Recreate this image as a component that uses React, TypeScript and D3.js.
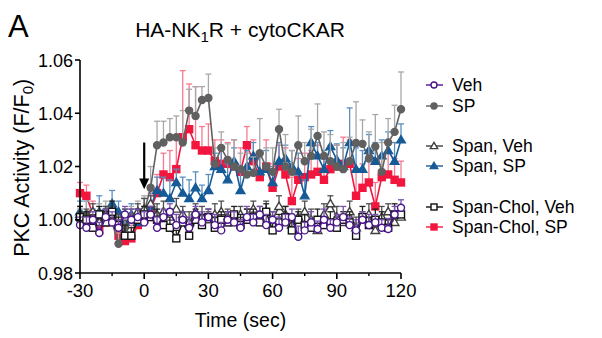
import React from 'react';
import * as d3 from 'd3';

// sample times (sec)
const times = [
  -30, -27, -24, -21, -18, -15, -12, -9, -6, -3,
  0, 3, 6, 9, 12, 15, 18, 21, 24, 27,
  30, 33, 36, 39, 42, 45, 48, 51, 54, 57,
  60, 63, 66, 69, 72, 75, 78, 81, 84, 87,
  90, 93, 96, 99, 102, 105, 108, 111, 114, 117,
  120,
];

const vehVals = [
  0.998, 0.997, 1.000, 0.995, 1.001, 0.999, 0.997, 1.002, 1.000, 1.001,
  0.999, 1.002, 0.997, 1.001, 1.003, 0.998, 1.000, 0.997, 1.002, 0.999,
  1.001, 0.998, 0.996, 1.000, 0.999, 0.997, 1.001, 0.999, 1.002, 0.998,
  1.000, 0.997, 0.999, 1.001, 0.9936, 0.996, 0.999, 0.9965, 1.000, 0.997,
  0.999, 1.001, 0.998, 0.996, 1.000, 0.998, 0.999, 0.997, 0.9965, 1.002,
  1.0045,
];
const vehErr = [
  0.003, 0.004, 0.003, 0.004, 0.003, 0.004, 0.003, 0.003, 0.004, 0.003,
  0.004, 0.003, 0.004, 0.003, 0.003, 0.004, 0.003, 0.004, 0.003, 0.004,
  0.003, 0.004, 0.003, 0.003, 0.004, 0.003, 0.004, 0.003, 0.003, 0.004,
  0.003, 0.004, 0.003, 0.003, 0.004, 0.003, 0.004, 0.003, 0.004, 0.003,
  0.003, 0.004, 0.003, 0.004, 0.003, 0.004, 0.003, 0.003, 0.004, 0.003,
  0.003,
];

const spVals = [
  1.000, 1.002, 0.999, 1.001, 1.003, 0.999, 0.991, 0.997, 1.001, 1.002,
  1.003, 1.012, 1.028, 1.029, 1.031, 1.031, 1.029, 1.041, 1.039, 1.045,
  1.0457, 1.021, 1.027, 1.0225, 1.020, 1.019, 1.017, 1.0176, 1.025, 1.020,
  1.018, 1.034, 1.020, 1.018, 1.028, 1.022, 1.024, 1.0315, 1.024, 1.022,
  1.020, 1.019, 1.022, 1.0288, 1.0285, 1.023, 1.0275, 1.018, 1.029, 1.033,
  1.0415,
];
const spErr = [
  0.004, 0.005, 0.004, 0.005, 0.004, 0.005, 0.004, 0.005, 0.004, 0.005,
  0.006, 0.008, 0.009, 0.008, 0.007, 0.008, 0.012, 0.008, 0.011, 0.005,
  0.009, 0.006, 0.006, 0.006, 0.010, 0.006, 0.008, 0.006, 0.013, 0.007,
  0.009, 0.0075, 0.012, 0.008, 0.011, 0.007, 0.010, 0.012, 0.009, 0.010,
  0.008, 0.010, 0.009, 0.0155, 0.009, 0.010, 0.012, 0.011, 0.009, 0.010,
  0.014,
];

const spanVehVals = [
  1.002, 1.000, 1.003, 0.999, 1.001, 1.002, 0.998, 1.001, 1.000, 1.003,
  1.004, 1.006, 1.002, 1.003, 1.001, 1.004, 1.002, 0.999, 1.003, 1.001,
  1.000, 1.002, 1.003, 1.001, 0.999, 1.002, 1.000, 1.004, 1.001, 1.003,
  1.000, 1.005, 1.002, 0.998, 1.001, 1.003, 1.000, 0.996, 1.002, 1.006,
  1.001, 0.999, 1.003, 0.997, 1.000, 1.002, 0.996, 1.001, 1.003, 0.999,
  1.001,
];
const spanVehErr = [
  0.003, 0.004, 0.003, 0.004, 0.004, 0.003, 0.004, 0.003, 0.004, 0.003,
  0.004, 0.003, 0.004, 0.004, 0.003, 0.004, 0.003, 0.004, 0.003, 0.004,
  0.003, 0.004, 0.004, 0.003, 0.004, 0.003, 0.004, 0.003, 0.004, 0.004,
  0.003, 0.004, 0.003, 0.004, 0.003, 0.004, 0.004, 0.003, 0.004, 0.003,
  0.004, 0.003, 0.004, 0.004, 0.003, 0.004, 0.003, 0.004, 0.003, 0.004,
  0.003,
];

const spanSpVals = [
  1.003, 1.002, 1.000, 1.003, 1.001, 1.006, 1.003, 0.999, 1.002, 0.999,
  1.003, 1.005, 1.011, 1.010, 1.008, 1.014, 1.010, 1.008, 1.012, 1.008,
  1.011, 1.020, 1.019, 1.015, 1.022, 1.011, 1.020, 1.024, 1.018, 1.019,
  1.014, 1.022, 1.023, 1.020, 1.018, 1.009, 1.029, 1.024, 1.019, 1.0275,
  1.0225, 1.020, 1.029, 1.019, 1.019, 1.026, 1.022, 1.024, 1.026, 1.022,
  1.030,
];
const spanSpErr = [
  0.004, 0.005, 0.004, 0.006, 0.004, 0.005, 0.004, 0.005, 0.004, 0.005,
  0.005, 0.006, 0.005, 0.006, 0.007, 0.005, 0.006, 0.007, 0.006, 0.005,
  0.006, 0.005, 0.007, 0.006, 0.005, 0.007, 0.006, 0.005, 0.006, 0.007,
  0.006, 0.007, 0.005, 0.006, 0.007, 0.006, 0.006, 0.005, 0.007, 0.006,
  0.006, 0.007, 0.013, 0.008, 0.007, 0.006, 0.007, 0.006, 0.007, 0.007,
  0.006,
];

const cholVehVals = [
  1.001, 1.000, 0.997, 1.002, 0.999, 1.003, 0.998, 0.994, 0.994, 1.000,
  1.002, 1.001, 1.000, 0.998, 0.997, 0.993, 0.999, 0.994, 1.000, 0.998,
  1.001, 0.997, 1.000, 0.999, 1.002, 0.998, 1.000, 1.001, 0.999, 1.003,
  0.996, 0.999, 1.001, 0.996, 1.000, 0.998, 0.997, 1.000, 0.998, 0.999,
  0.997, 1.000, 0.999, 0.994, 1.001, 0.998, 1.000, 0.999, 0.997, 1.002,
  1.002,
];
const cholVehErr = [
  0.004, 0.003, 0.004, 0.003, 0.004, 0.004, 0.003, 0.004, 0.003, 0.004,
  0.003, 0.004, 0.004, 0.003, 0.004, 0.003, 0.004, 0.003, 0.004, 0.004,
  0.003, 0.004, 0.003, 0.004, 0.003, 0.004, 0.004, 0.003, 0.004, 0.003,
  0.004, 0.003, 0.004, 0.004, 0.003, 0.004, 0.003, 0.004, 0.003, 0.004,
  0.004, 0.003, 0.004, 0.003, 0.004, 0.003, 0.004, 0.004, 0.003, 0.004,
  0.003,
];

const cholSpVals = [
  1.010, 1.009, 1.002, 0.996, 0.999, 1.000, 0.994, 0.992, 0.993, 0.998,
  1.000, 1.004, 1.010, 1.017, 1.016, 1.019, 1.031, 1.034, 1.028, 1.026,
  1.026, 1.022, 1.021, 1.021, 1.020, 1.018, 1.028, 1.022, 1.016, 1.020,
  1.012, 1.020, 1.017, 1.007, 1.015, 1.016, 1.017, 1.018, 1.015, 1.019,
  1.020, 1.021, 1.021, 1.009, 1.012, 1.014, 1.005, 1.016, 1.017, 1.015,
  1.014,
];
const cholSpErr = [
  0.004, 0.004, 0.005, 0.004, 0.005, 0.004, 0.005, 0.004, 0.005, 0.004,
  0.005, 0.006, 0.007, 0.008, 0.010, 0.012, 0.025, 0.017, 0.022, 0.009,
  0.010, 0.008, 0.009, 0.008, 0.010, 0.009, 0.007, 0.008, 0.009, 0.010,
  0.009, 0.008, 0.010, 0.009, 0.008, 0.009, 0.009, 0.010, 0.008, 0.009,
  0.008, 0.010, 0.009, 0.010, 0.009, 0.011, 0.009, 0.008, 0.009, 0.008,
  0.008,
];

const xTicks = [-30, 0, 30, 60, 90, 120];
const xMinorTicks = [-15, 15, 45, 75, 105];
const yTicks = [0.98, 1.0, 1.02, 1.04, 1.06];

type Shape = 'circle' | 'square' | 'triangle';
type Series = {
  name: string;
  vals: number[];
  err: number[];
  color: string;
  errColor: string;
  shape: Shape;
  open: boolean;
};

const series: Series[] = [
  { name: 'Veh', vals: vehVals, err: vehErr, color: '#4a148c', errColor: '#7a50b0', shape: 'circle', open: true },
  { name: 'SP', vals: spVals, err: spErr, color: '#606060', errColor: '#a8a8a8', shape: 'circle', open: false },
  { name: 'Span, Veh', vals: spanVehVals, err: spanVehErr, color: '#404040', errColor: '#505050', shape: 'triangle', open: true },
  { name: 'Span, SP', vals: spanSpVals, err: spanSpErr, color: '#165a96', errColor: '#5b8fc0', shape: 'triangle', open: false },
  { name: 'Span-Chol, Veh', vals: cholVehVals, err: cholVehErr, color: '#111111', errColor: '#222222', shape: 'square', open: true },
  { name: 'Span-Chol, SP', vals: cholSpVals, err: cholSpErr, color: '#f2163e', errColor: '#f77a90', shape: 'square', open: false },
];

const drawOrder = [5, 3, 1, 2, 4, 0];

const FONT = 'Liberation Sans, Arial, sans-serif';

const Marker = ({ cx, cy, s, size = 7 }: { cx: number; cy: number; s: Series; size?: number }) => {
  const fill = s.open ? '#fff' : s.color;
  const sw = 1.4;
  if (s.shape === 'circle') {
    return <circle cx={cx} cy={cy} r={size / 2} fill={fill} stroke={s.color} strokeWidth={sw} />;
  }
  if (s.shape === 'square') {
    const h = size / 2;
    return <rect x={cx - h} y={cy - h} width={size} height={size} fill={fill} stroke={s.color} strokeWidth={sw} />;
  }
  const h = size * 0.62;
  const pts = `${cx},${cy - h} ${cx + h},${cy + h * 0.7} ${cx - h},${cy + h * 0.7}`;
  return <polygon points={pts} fill={fill} stroke={s.color} strokeWidth={sw} />;
};

const App = () => {
  const x = d3.scaleLinear().domain([-30, 120]).range([80, 401]);
  const y = d3.scaleLinear().domain([0.98, 1.06]).range([273, 60]);

  const line = d3.line<number>()
    .x((_, i) => x(times[i]))
    .y((d) => y(d));

  const legendY = [85, 106, 146, 166, 207, 227];

  return (
    <svg width={602} height={338} style={{ position: 'absolute', left: 0, top: 0, background: '#fff' }} fontFamily={FONT}>
      <text x={8} y={37} fontSize={31}>A</text>
      <text x={240} y={37} fontSize={21} textAnchor="middle">
        HA-NK<tspan fontSize={15} dy={5}>1</tspan><tspan dy={-5}>R + cytoCKAR</tspan>
      </text>

      {/* series */}
      {drawOrder.map((si) => {
        const s = series[si];
        return (
          <g key={s.name}>
            {s.vals.map((v, i) => {
              const cx = x(times[i]);
              const top = y(v + s.err[i]);
              return (
                <g key={i} stroke={s.errColor} strokeWidth={1.3}>
                  <line x1={cx} x2={cx} y1={y(v)} y2={top} />
                  <line x1={cx - 3} x2={cx + 3} y1={top} y2={top} />
                </g>
              );
            })}
            <path d={line(s.vals) || ''} fill="none" stroke={s.color} strokeWidth={1.6} />
            {s.vals.map((v, i) => (
              <Marker key={i} cx={x(times[i])} cy={y(v)} s={s} />
            ))}
          </g>
        );
      })}

      {/* stimulus arrow */}
      <line x1={x(0)} x2={x(0)} y1={y(1.0290)} y2={y(1.0145)} stroke="#000" strokeWidth={2.2} />
      <polygon
        points={`${x(0) - 5},${y(1.0155)} ${x(0) + 5},${y(1.0155)} ${x(0)},${y(1.0115)}`}
        fill="#000"
      />

      {/* y axis */}
      <line x1={80} x2={80} y1={y(1.06)} y2={y(0.98)} stroke="#000" strokeWidth={1.6} />
      {yTicks.map((t) => (
        <g key={t}>
          <line x1={75} x2={80} y1={y(t)} y2={y(t)} stroke="#000" strokeWidth={1.6} />
          <text x={73} y={y(t) + 6.5} fontSize={18} textAnchor="end">{t.toFixed(2)}</text>
        </g>
      ))}

      {/* x axis */}
      <line x1={x(-30)} x2={x(120)} y1={273} y2={273} stroke="#000" strokeWidth={1.6} />
      {xTicks.map((t) => (
        <g key={t}>
          <line x1={x(t)} x2={x(t)} y1={273} y2={279} stroke="#000" strokeWidth={1.6} />
          <text x={x(t)} y={297} fontSize={18.5} textAnchor="middle">{t}</text>
        </g>
      ))}
      {xMinorTicks.map((t) => (
        <line key={t} x1={x(t)} x2={x(t)} y1={273} y2={276} stroke="#000" strokeWidth={1.4} />
      ))}

      <text x={x(45)} y={327} fontSize={19.5} textAnchor="middle">Time (sec)</text>
      <text transform={`translate(29,${y(1.0195)}) rotate(-90)`} fontSize={21.5} textAnchor="middle">
        PKC Activity (F/F<tspan fontSize={15} dy={4}>0</tspan><tspan dy={-4}>)</tspan>
      </text>

      {/* legend */}
      {series.map((s, i) => (
        <g key={s.name}>
          <line x1={426} x2={443} y1={legendY[i]} y2={legendY[i]} stroke={s.color} strokeWidth={1.4} />
          <Marker cx={434} cy={legendY[i]} s={s} size={6} />
          <text x={452} y={legendY[i] + 6} fontSize={17.5}>{s.name}</text>
        </g>
      ))}
    </svg>
  );
};

export default App;
